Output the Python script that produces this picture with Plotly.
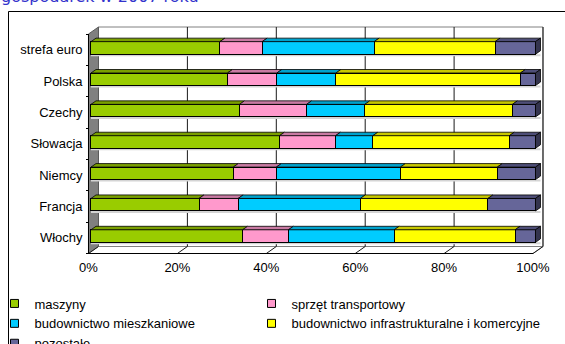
import plotly.graph_objects as go

# --- data: structure of investment outlays (% of total), 2007 ---
kraje = ["strefa euro", "Polska", "Czechy", "Słowacja", "Niemcy", "Francja", "Włochy"]
maszyny = [29.0, 30.7, 33.4, 42.4, 32.0, 24.3, 34.1]
sprzet_transportowy = [9.5, 11.1, 15.1, 12.6, 9.7, 8.8, 10.3]
budownictwo_mieszkaniowe = [25.2, 13.3, 13.1, 8.4, 27.9, 27.5, 23.8]
budownictwo_infrastrukturalne = [27.2, 41.5, 33.2, 30.7, 21.8, 28.7, 27.2]
pozostale = [9.1, 3.4, 5.2, 5.9, 8.6, 10.7, 4.6]

nazwy_serii = ["maszyny", "sprzęt transportowy", "budownictwo mieszkaniowe",
               "budownictwo infrastrukturalne i komercyjne", "pozostałe"]
x_ticks = [0, 20, 40, 60, 80, 100]
x_tick_labels = ["0%", "20%", "40%", "60%", "80%", "100%"]

serie = [maszyny, sprzet_transportowy, budownictwo_mieszkaniowe,
         budownictwo_infrastrukturalne, pozostale]
kolory = ["#99CC00", "#FF99CC", "#00CCFF", "#FFFF00", "#666699"]
kolory_gora = ["#7A9F00", "#C97AA3", "#00A2CC", "#C8C800", "#4E4E78"]
kolor_bok = "#34344E"
# legend laid out in two columns, filled row by row
kolumna_legendy = ["legend", "legend2", "legend", "legend2", "legend"]

# --- geometry of the pseudo-3D box (pixels) ---
W, H = 565, 344
B = 60                                 # bottom margin holding the legend
PH = H - B                             # height of the paper area
X0_PX, X100_PX = 88.5, 533.0           # front plane: 0% and 100%
PXX = (X100_PX - X0_PX) / 100.0
Y_BOT_PX = 253.5                       # front plane bottom (y = -0.5)
PXY = 31.357                           # pixels per category
DEPTH = (10.0, 7.0)                    # full depth vector in px (right, up)
BAR_D0, BAR_D1 = 0.25, 0.75            # bars occupy the middle of the depth
BAR_W = 0.4

def ddx(d):
    return DEPTH[0] * d / PXX

def ddy(d):
    return DEPTH[1] * d / PXY

def py(px_from_top):
    return (PH - px_from_top) / PH

n = len(kraje)
ypos = [n - 1 - i for i in range(n)]   # first category at the top

xr = [-0.5, 103.5]
yr = [-0.62, 6.8]
x_dom = [(X0_PX + xr[0] * PXX) / W, (X0_PX + xr[1] * PXX) / W]
def ypx(v):
    return Y_BOT_PX - (v + 0.5) * PXY
y_dom = [py(ypx(yr[0])), py(ypx(yr[1]))]

# bars sit on a plane shifted by BAR_D0 into the depth
x2r = [r - ddx(BAR_D0) for r in xr]
y2r = [r - ddy(BAR_D0) for r in yr]

fig = go.Figure()

for nazwa, vals, kol, leg in zip(nazwy_serii, serie, kolory, kolumna_legendy):
    fig.add_trace(go.Bar(
        name=nazwa, orientation="h", x=vals, y=ypos, width=BAR_W,
        marker=dict(color=kol, line=dict(color="#000000", width=1)),
        xaxis="x2", yaxis="y2", showlegend=False, legendgroup=nazwa,
        hovertemplate="%{x:.1f}%<extra>" + nazwa + "</extra>",
    ))
    # legend entry with a small square swatch
    fig.add_trace(go.Scatter(
        name=nazwa, x=[None], y=[None], mode="markers",
        marker=dict(symbol="square", size=8, color=kol,
                    line=dict(color="#000000", width=1)),
        legendgroup=nazwa, showlegend=True, hoverinfo="skip", legend=leg,
    ))

shapes = []
d1x, d1y = ddx(1), ddy(1)

# back wall
shapes.append(dict(type="rect", xref="x", yref="y", layer="below",
                   x0=d1x, x1=100 + d1x, y0=-0.5 + d1y, y1=n - 0.5 + d1y,
                   fillcolor="#FFFFFF", line=dict(color="#808080", width=1)))
# left side wall
shapes.append(dict(type="path", xref="x", yref="y", layer="below",
                   path=f"M0,-0.5 L0,{n-0.5} L{d1x},{n-0.5+d1y} L{d1x},{-0.5+d1y} Z",
                   fillcolor="#808080", line=dict(color="#5A5A5A", width=1)))
# floor
shapes.append(dict(type="path", xref="x", yref="y", layer="below",
                   path=f"M0,-0.5 L100,-0.5 L{100+d1x},{-0.5+d1y} L{d1x},{-0.5+d1y} Z",
                   fillcolor="#FFFFFF", line=dict(color="#808080", width=1)))
# gridlines on the back wall and on the floor
for v in x_ticks:
    if v > 0:
        shapes.append(dict(type="line", xref="x", yref="y", layer="below",
                           x0=v + d1x, x1=v + d1x, y0=-0.5 + d1y, y1=n - 0.5 + d1y,
                           line=dict(color="#1A1A1A", width=1)))
    shapes.append(dict(type="line", xref="x", yref="y", layer="below",
                       x0=v, x1=v + d1x, y0=-0.5, y1=-0.5 + d1y,
                       line=dict(color="#1A1A1A", width=1)))
# axis lines on the front plane
shapes.append(dict(type="line", xref="x", yref="y", layer="below",
                   x0=0, x1=100, y0=-0.5, y1=-0.5, line=dict(color="#000000", width=1)))
shapes.append(dict(type="line", xref="x", yref="y", layer="below",
                   x0=0, x1=0, y0=-0.5, y1=n - 0.5, line=dict(color="#000000", width=1)))

# bar tops, end caps and soft shadows
bdx, bdy = ddx(BAR_D1 - BAR_D0), ddy(BAR_D1 - BAR_D0)
for i in range(n):
    yc = ypos[i]
    yt, yb = yc + BAR_W / 2, yc - BAR_W / 2
    total = sum(s[i] for s in serie)
    shapes.append(dict(type="rect", xref="x2", yref="y2", layer="below",
                       x0=0, x1=total + bdx, y0=yb - 2.0 / PXY, y1=yb,
                       fillcolor="#D4D4D4", line=dict(width=0)))
    start = 0.0
    for s, kg in zip(serie, kolory_gora):
        end = start + s[i]
        shapes.append(dict(type="path", xref="x2", yref="y2",
                           path=f"M{start},{yt} L{end},{yt} L{end+bdx},{yt+bdy} L{start+bdx},{yt+bdy} Z",
                           fillcolor=kg, line=dict(color="#000000", width=0.8)))
        start = end
    shapes.append(dict(type="path", xref="x2", yref="y2",
                       path=f"M{start},{yb} L{start},{yt} L{start+bdx},{yt+bdy} L{start+bdx},{yb+bdy} Z",
                       fillcolor=kolor_bok, line=dict(color="#000000", width=0.8)))

# outer chart frame
shapes.append(dict(type="rect", xref="paper", yref="paper",
                   x0=8.5 / W, x1=1.05, y0=-0.5, y1=py(11.5),
                   line=dict(color="#000000", width=1), fillcolor="rgba(0,0,0,0)"))

legend_style = dict(orientation="v", yanchor="top", xanchor="left",
                    bgcolor="rgba(0,0,0,0)", font=dict(size=13),
                    tracegroupgap=0, itemwidth=30)

fig.update_layout(
    width=W, height=H,
    margin=dict(l=0, r=0, t=0, b=B, autoexpand=False),
    paper_bgcolor="#FFFFFF", plot_bgcolor="rgba(0,0,0,0)",
    font=dict(family="Liberation Sans, Arial, sans-serif", size=13, color="#000000"),
    barmode="stack",
    shapes=shapes,
    xaxis=dict(domain=x_dom, range=xr, anchor="free", position=py(Y_BOT_PX),
               tickvals=x_ticks, ticktext=x_tick_labels, ticks="", showgrid=False,
               zeroline=False, showline=False, ticklabelstandoff=4, fixedrange=True),
    yaxis=dict(domain=y_dom, range=yr, anchor="free", position=X0_PX / W,
               tickvals=ypos, ticktext=kraje, ticks="", showgrid=False,
               zeroline=False, showline=False, ticklabelstandoff=6, fixedrange=True,
               minor=dict(ticks="outside", ticklen=3, tickcolor="#000000",
                          tickvals=[v - 0.5 for v in range(n + 1)])),
    xaxis2=dict(overlaying="x", anchor="y2", range=x2r, visible=False, fixedrange=True),
    yaxis2=dict(overlaying="y", anchor="x2", range=y2r, visible=False, fixedrange=True),
    legend=dict(x=-5.5 / W, y=py(288.5), **legend_style),
    legend2=dict(x=(270 - 18.5) / W, y=py(288.5), **legend_style),
    annotations=[dict(text="gospodarek w 2007 roku", xref="paper", yref="paper",
                      x=-1 / W, y=py(8), xanchor="left", yanchor="bottom",
                      showarrow=False,
                      font=dict(family="DejaVu Sans, sans-serif", size=16, color="#3333CC"))],
)

fig.write_html("out.html")
